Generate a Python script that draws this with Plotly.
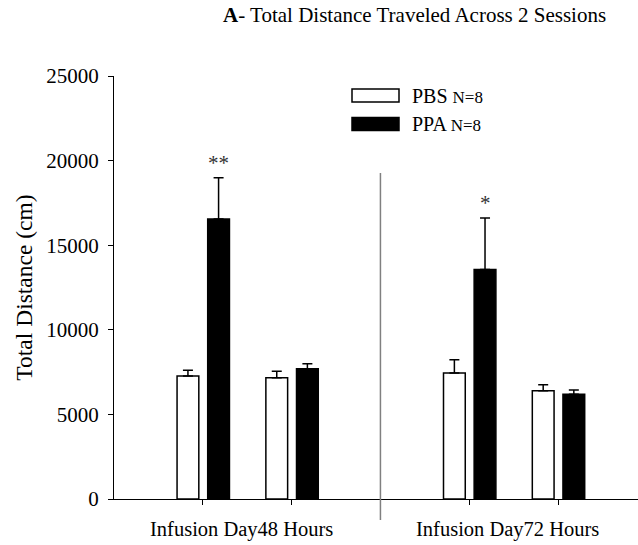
import plotly.graph_objects as go

# Group labels and sessions within each group
groups = ["Infusion Day48 Hours", "Infusion Day72 Hours"]
sessions_per_group = 2

# Mean total distance (cm) and SEM for each session, per treatment
pbs_mean = [7270, 7170, 7450, 6400]
pbs_sem = [340, 380, 780, 350]
ppa_mean = [16550, 7700, 13570, 6190]
ppa_sem = [2440, 300, 3040, 250]

# Significance markers for PPA vs PBS
ppa_sig = ["**", "", "*", ""]

# y-axis ticks
y_ticks = [0, 5000, 10000, 15000, 20000, 25000]
y_ticktext = ["0", "5000", "10000", "15000", "20000", "25000"]

series = [
    ("PBS", "N=8", pbs_mean, pbs_sem, "white"),
    ("PPA", "N=8", ppa_mean, ppa_sem, "black"),
]

# x positions: sessions of a group side by side, one empty slot between groups
xpos = []
for g in range(len(groups)):
    for s in range(sessions_per_group):
        xpos.append(g * (sessions_per_group + 1) + s + 1)
sep_x = sessions_per_group + 1

BAR_W = 0.245
OFFSETS = [-0.29, 0.055]

FONT = "Liberation Serif, Times New Roman, serif"
W, H = 638, 545
ML, MR, MT, MB = 114, 0, 76, 46


def px_to_paper(px, py):
    return (px - ML) / (W - ML - MR), (H - MB - py) / (H - MT - MB)


fig = go.Figure()
for (name, n, mean, sem, color), off in zip(series, OFFSETS):
    fig.add_trace(go.Bar(
        x=xpos, y=mean, name=name,
        width=BAR_W, offset=off,
        marker=dict(color=color, line=dict(color="black", width=1.5)),
        error_y=dict(type="data", array=sem, arrayminus=[0] * len(sem),
                     symmetric=False, color="black", thickness=1.5, width=5),
        showlegend=False,
    ))

# significance stars above PPA error bars
for x, m, s, lab in zip(xpos, ppa_mean, ppa_sem, ppa_sig):
    if lab:
        fig.add_annotation(x=x + OFFSETS[1] + BAR_W / 2, y=m + s, text=lab,
                           showarrow=False, yanchor="bottom", yshift=1,
                           font=dict(family=FONT, size=21, color="#333"))

# group labels under the axis
for g, lab in enumerate(groups):
    cx = g * (sessions_per_group + 1) + (sessions_per_group + 1) / 2
    fig.add_annotation(x=cx, y=0, xref="x", yref="paper", text=lab,
                       showarrow=False, yanchor="top", yshift=-17, xshift=-6,
                       font=dict(family=FONT, size=20.5, color="black"))

# separator between the two infusion days
_, y_top = px_to_paper(0, 173)
_, y_bot = px_to_paper(0, 520)
fig.add_shape(type="line", xref="x", yref="paper", x0=sep_x, x1=sep_x,
              y0=y_bot, y1=y_top, line=dict(color="#808080", width=1.5))

# legend drawn as boxes with labels
legend_rows = [95.5, 124]
for (name, n, mean, sem, color), ry in zip(series, legend_rows):
    x0, y0 = px_to_paper(352, ry - 6.5)
    x1, y1 = px_to_paper(399, ry + 6.5)
    fig.add_shape(type="rect", xref="paper", yref="paper",
                  x0=x0, x1=x1, y0=y1, y1=y0, fillcolor=color,
                  line=dict(color="black", width=1.5))
    tx, ty = px_to_paper(410, ry)
    fig.add_annotation(x=tx, y=ty, xref="paper", yref="paper",
                       text=f"{name} <span style='font-size:17px'>{n}</span>",
                       showarrow=False, xanchor="left", yanchor="middle",
                       font=dict(family=FONT, size=20, color="black"))

tx, ty = px_to_paper(414, 15)
fig.add_annotation(x=tx, y=ty, xref="paper", yref="paper", yanchor="middle",
                   text="<b>A</b>- Total Distance Traveled Across 2 Sessions",
                   showarrow=False, font=dict(family=FONT, size=21, color="black"))

fig.update_layout(
    width=W, height=H,
    margin=dict(l=ML, r=MR, t=MT, b=MB),
    paper_bgcolor="white", plot_bgcolor="white",
    barmode="overlay",
    font=dict(family=FONT, size=20, color="black"),
    xaxis=dict(range=[0, 5.9], tickvals=[1, 2, 3, 4, 5], showticklabels=False,
               ticks="outside", ticklen=5, tickwidth=1.2, tickcolor="black",
               showline=True, linecolor="black", linewidth=1.2,
               showgrid=False, zeroline=False),
    yaxis=dict(range=[0, 25000], tickvals=y_ticks, ticktext=y_ticktext,
               ticks="outside", ticklen=5, tickwidth=1.2, tickcolor="black",
               showline=True, linecolor="black", linewidth=1.2,
               showgrid=False, zeroline=False, ticklabelstandoff=5,
               tickfont=dict(family=FONT, size=21),
               title=dict(text="Total Distance (cm)", standoff=6,
                          font=dict(family=FONT, size=23.5))),
)

fig.write_html("out.html")
